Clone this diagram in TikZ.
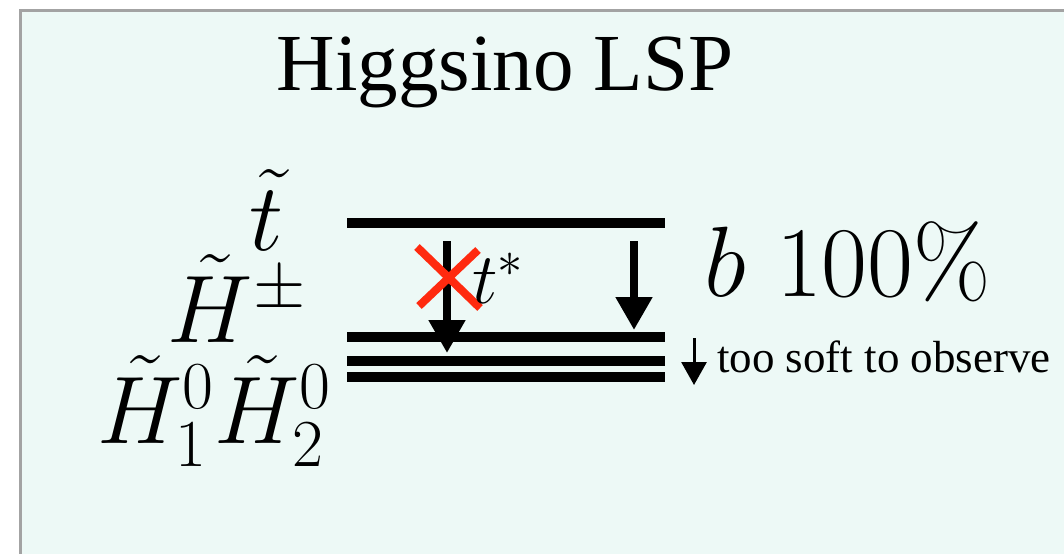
\RequirePackage{fix-cm}
\documentclass[tikz,border=0pt]{standalone}
\usepackage[no-math]{fontspec}
\newfontfamily\labelrm{Liberation Serif}
\usetikzlibrary{arrows.meta}
\definecolor{PanelBg}{HTML}{EDF9F6}
\definecolor{FrameGray}{HTML}{A3A3A3}
\definecolor{VetoRed}{HTML}{FF2A0F}

\begin{document}
\begin{tikzpicture}[x=1pt, y=-1pt,
        energy/.style={line width=10pt},
        decay/.style={line width=8pt, -{Triangle[length=33pt, width=35pt]}},
        soft/.style={line width=3pt, -{Triangle[length=23pt, width=25pt]}},
        veto/.style={VetoRed, line width=8pt},
        big/.style={inner sep=0pt, font=\fontsize{96}{100}\selectfont},
        mid/.style={inner sep=0pt, font=\fontsize{72}{76}\selectfont}]

        \useasboundingbox (0,0) rectangle (1064,554);
        \fill[white] (0,0) rectangle (1064,554);

        % Panel
        \fill[PanelBg] (20,10) rectangle (1064,554);
        \draw[FrameGray, line width=3pt] (20.5,554) -- (20.5,10.5) -- (1064,10.5);

        % Title
        \node[inner sep=0pt, anchor=base, font=\labelrm\fontsize{81}{85}\selectfont]
            (title) at (505,90) {Higgsino LSP};

        % Particle labels
        \node[big, anchor=base east] (stop)  at (284,250) {$\tilde{t}$};
        \node[big, anchor=base east] (charg) at (306,342) {$\tilde{H}^{\pm}$};
        \node[big, anchor=base east] (neut)  at (331,443) {$\tilde{H}^0_1\tilde{H}^0_2$};

        % Mass levels
        \coordinate (stopL) at (347,222.5);  \coordinate (stopR) at (665,222.5);
        \coordinate (chaL)  at (347,337);    \coordinate (chaR)  at (665,337);
        \coordinate (n2L)   at (347,361);    \coordinate (n2R)   at (665,361);
        \coordinate (n1L)   at (347,377);    \coordinate (n1R)   at (665,377);
        \draw[energy] (stopL) -- (stopR);
        \draw[energy] (chaL) -- (chaR);
        \draw[energy] (n2L) -- (n2R);
        \draw[energy] (n1L) -- (n1R);

        % Decays
        \coordinate (topS) at (447,241);  \coordinate (topE) at (447,353);
        \coordinate (botS) at (634,241);  \coordinate (botE) at (634,330);
        \draw[decay] (topS) -- (topE);
        \draw[decay] (botS) -- (botE);

        % Forbidden channel
        \coordinate (v1) at (417,247);  \coordinate (v2) at (480,308);
        \coordinate (v3) at (478,250);  \coordinate (v4) at (419,306);
        \draw[veto] (v1) -- (v2);
        \draw[veto] (v3) -- (v4);
        \node[mid, anchor=base west] (tstar) at (472,303) {$t^{*}$};

        % Branching
        \node[inner sep=0pt, anchor=base west, font=\fontsize{100}{104}\selectfont]
            (bfrac) at (704,296) {$b\ 100\%$};

        % Soft decay
        \coordinate (softS) at (694,338);  \coordinate (softE) at (694,385);
        \draw[soft] (softS) -- (softE);
        \node[inner sep=0pt, anchor=base west, font=\labelrm\fontsize{45}{49}\selectfont]
            (softtxt) at (717,372) {too soft to observe};
\end{tikzpicture}
\end{document}
